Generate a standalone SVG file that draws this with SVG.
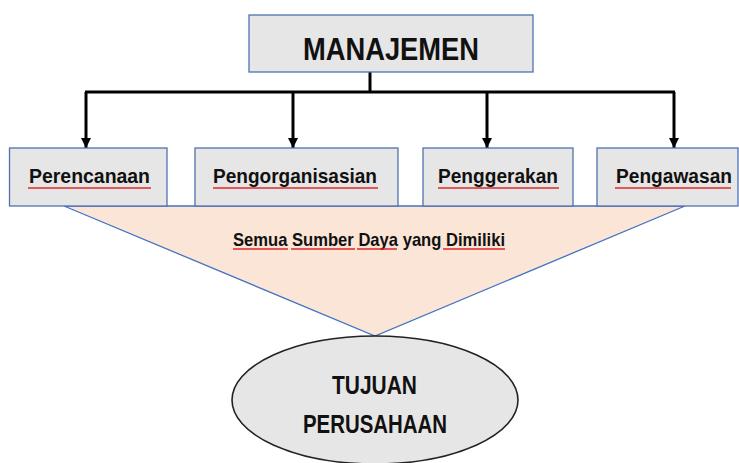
<svg xmlns="http://www.w3.org/2000/svg" width="739" height="463" viewBox="0 0 739 463">
<defs>
<style>
.box{fill:#E7E6E6;stroke:#4F72B0;stroke-width:1.3}
.lbl{font-family:"Liberation Sans",Arial,sans-serif;font-weight:bold;fill:#111}
.wire{stroke:#000;stroke-width:3;fill:none}
.sq{stroke:#E0282A;stroke-width:1.4;fill:none}
</style>
<marker id="ah" viewBox="0 0 10 10" refX="10" refY="5" markerWidth="10" markerHeight="10" markerUnits="userSpaceOnUse" orient="auto">
<path d="M0,0 L10,5 L0,10 z" fill="#000"/>
</marker>
</defs>
<rect width="739" height="463" fill="#fff"/>
<g id="sumber-daya">
<polygon points="64,206 685,206 375,336" fill="#FBE5D6" stroke="#4472C4" stroke-width="1.3"/>
<text class="lbl" x="233" y="246" font-size="19" textLength="272" lengthAdjust="spacingAndGlyphs">Semua Sumber Daya yang Dimiliki</text>
<path class="sq" d="M233,249 H288 M291,249 H355 M357,249 H397 M443,249 H505"/>
</g>
<g id="connectors">
<path class="wire" d="M370,72 V92"/>
<path class="wire" d="M85,92 H675"/>
<path class="wire" d="M86,92 V148" marker-end="url(#ah)"/>
<path class="wire" d="M293,92 V148" marker-end="url(#ah)"/>
<path class="wire" d="M487,92 V148" marker-end="url(#ah)"/>
<path class="wire" d="M674,92 V148" marker-end="url(#ah)"/>
</g>
<g id="manajemen">
<rect class="box" x="249" y="15" width="284" height="57"/>
<text class="lbl" x="303" y="60" font-size="32" textLength="176" lengthAdjust="spacingAndGlyphs">MANAJEMEN</text>
</g>
<g id="perencanaan">
<rect class="box" x="9.5" y="148" width="157.5" height="58"/>
<text class="lbl" x="29" y="183" font-size="21" textLength="121" lengthAdjust="spacingAndGlyphs">Perencanaan</text>
<path class="sq" d="M28,188 H151"/>
</g>
<g id="pengorganisasian">
<rect class="box" x="195" y="148" width="203" height="58"/>
<text class="lbl" x="213" y="183" font-size="21" textLength="164" lengthAdjust="spacingAndGlyphs">Pengorganisasian</text>
<path class="sq" d="M213,188 H378"/>
</g>
<g id="penggerakan">
<rect class="box" x="423" y="148" width="150" height="58"/>
<text class="lbl" x="438" y="183" font-size="21" textLength="120" lengthAdjust="spacingAndGlyphs">Penggerakan</text>
<path class="sq" d="M438,188 H559"/>
</g>
<g id="pengawasan">
<rect class="box" x="597" y="148" width="141" height="58"/>
<text class="lbl" x="616" y="183" font-size="19.5" textLength="116" lengthAdjust="spacingAndGlyphs">Pengawasan</text>
<path class="sq" d="M615,188 H731"/>
</g>
<g id="tujuan">
<ellipse cx="375" cy="400" rx="143" ry="64" fill="#E7E6E6" stroke="#222" stroke-width="1.6"/>
<text class="lbl" x="332" y="394" font-size="26" textLength="85" lengthAdjust="spacingAndGlyphs">TUJUAN</text>
<text class="lbl" x="303" y="433" font-size="26" textLength="144" lengthAdjust="spacingAndGlyphs">PERUSAHAAN</text>
</g>
</svg>
